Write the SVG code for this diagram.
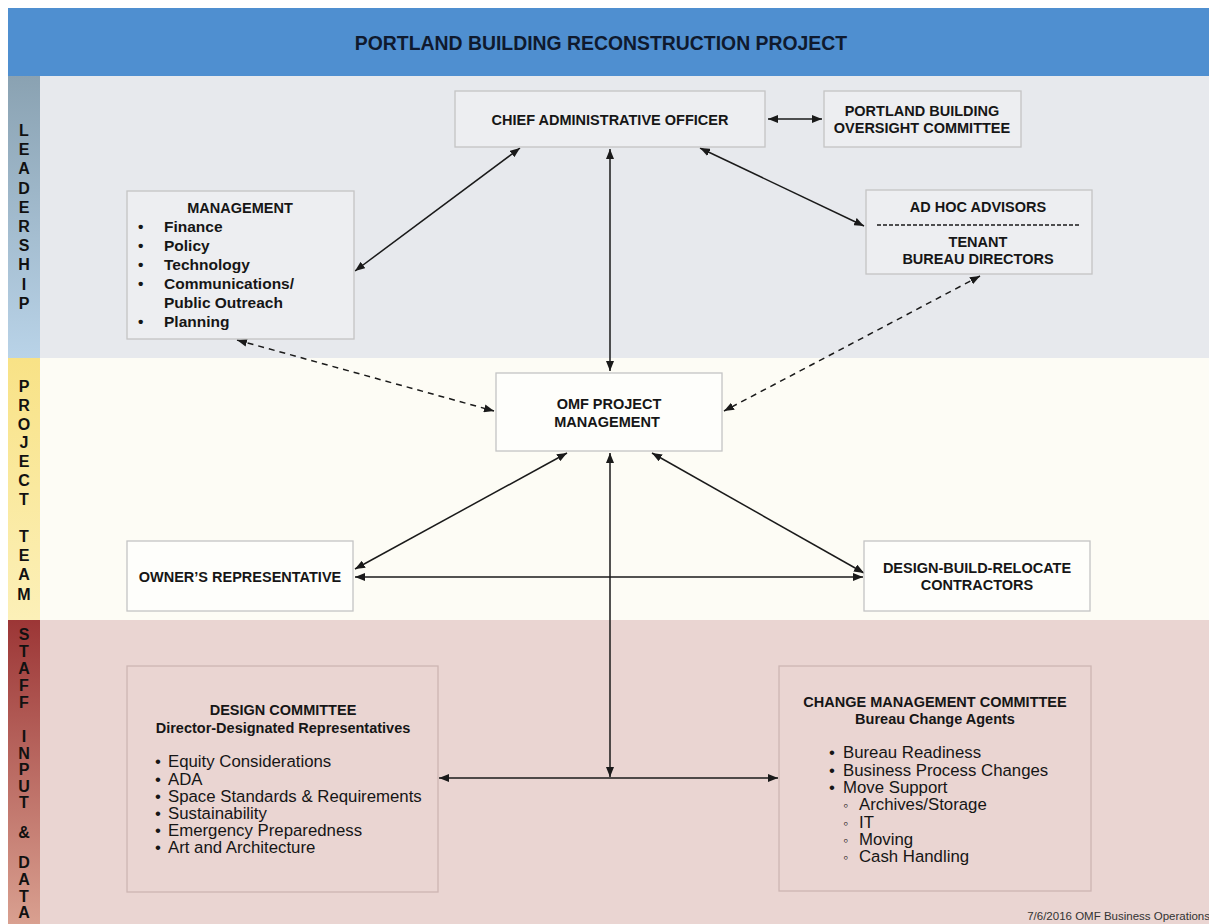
<svg xmlns="http://www.w3.org/2000/svg" width="1209" height="924" viewBox="0 0 1209 924">
<defs>
<linearGradient id="gLead" x1="0" y1="0" x2="0" y2="1"><stop offset="0" stop-color="#8aa2b2"/><stop offset="1" stop-color="#b9d3e8"/></linearGradient>
<linearGradient id="gProj" x1="0" y1="0" x2="0" y2="1"><stop offset="0" stop-color="#f8e286"/><stop offset="1" stop-color="#fcf0b8"/></linearGradient>
<linearGradient id="gStaff" x1="0" y1="0" x2="0" y2="1"><stop offset="0" stop-color="#9c3636"/><stop offset="1" stop-color="#d9a090"/></linearGradient>
<marker id="ah" viewBox="0 0 10 8" refX="10" refY="4" markerWidth="10" markerHeight="8" markerUnits="userSpaceOnUse" orient="auto-start-reverse"><path d="M0,0 L10,4 L0,8 Z" fill="#1a1a1a"/></marker>
<style>
.box{stroke:#c4c4c4;stroke-width:1.3}
.lead{fill:#edeef1}
.proj{fill:#fefefb}
.staff{fill:#ead5d2;stroke:#cdb6b3}
text{font-family:"Liberation Sans",Arial,sans-serif;fill:#161616}
.h{font-weight:bold;font-size:14.5px;text-anchor:middle}
.b{font-weight:bold;font-size:15.5px}
.r{font-size:16.8px;fill:#4a4a4a}
.side{font-weight:bold;font-size:16px;text-anchor:middle;fill:#111}
.c{stroke:#1a1a1a;stroke-width:1.5;fill:none;marker-start:url(#ah);marker-end:url(#ah)}
.d{stroke-dasharray:6 5}
</style>
</defs>
<rect width="1209" height="924" fill="#ffffff"/>
<g id="bands">
<rect x="8" y="8" width="1201" height="68" fill="#4f8fd0"/>
<rect x="40" y="76" width="1169" height="282" fill="#e7e9ed"/>
<rect x="40" y="358" width="1169" height="262" fill="#fdfcf5"/>
<rect x="40" y="620" width="1169" height="304" fill="#ead5d2"/>
<rect x="8" y="76" width="32" height="282" fill="url(#gLead)"/>
<rect x="8" y="358" width="32" height="262" fill="url(#gProj)"/>
<rect x="8" y="620" width="32" height="304" fill="url(#gStaff)"/>
</g>
<g id="title"><text x="601" y="50" font-weight="bold" font-size="19.4" text-anchor="middle" style="fill:#0f1a2e">PORTLAND BUILDING RECONSTRUCTION PROJECT</text></g>
<g id="side-labels">
<g id="lbl-leadership">
<text class="side" x="24" y="136">L</text><text class="side" x="24" y="155">E</text><text class="side" x="24" y="174">A</text><text class="side" x="24" y="194">D</text><text class="side" x="24" y="213">E</text><text class="side" x="24" y="232">R</text><text class="side" x="24" y="251">S</text><text class="side" x="24" y="270">H</text><text class="side" x="24" y="290">I</text><text class="side" x="24" y="309">P</text>
</g>
<g id="lbl-project">
<text class="side" x="24" y="392">P</text><text class="side" x="24" y="411">R</text><text class="side" x="24" y="430">O</text><text class="side" x="24" y="448">J</text><text class="side" x="24" y="467">E</text><text class="side" x="24" y="486">C</text><text class="side" x="24" y="505">T</text><text class="side" x="24" y="542">T</text><text class="side" x="24" y="561">E</text><text class="side" x="24" y="580">A</text><text class="side" x="24" y="600">M</text>
</g>
<g id="lbl-staff">
<text class="side" x="24" y="640">S</text><text class="side" x="24" y="657">T</text><text class="side" x="24" y="674">A</text><text class="side" x="24" y="691">F</text><text class="side" x="24" y="708">F</text><text class="side" x="24" y="742">I</text><text class="side" x="24" y="759">N</text><text class="side" x="24" y="775">P</text><text class="side" x="24" y="792">U</text><text class="side" x="24" y="808">T</text><text class="side" x="24" y="838">&amp;</text><text class="side" x="24" y="868">D</text><text class="side" x="24" y="885">A</text><text class="side" x="24" y="902">T</text><text class="side" x="24" y="918">A</text>
</g>
</g>
<g id="connectors">
<line class="c" x1="768" y1="119" x2="822" y2="119"/>
<line class="c" x1="520" y1="148" x2="355" y2="271"/>
<line class="c" x1="610" y1="149" x2="610" y2="371"/>
<line class="c" x1="700" y1="148" x2="864" y2="226"/>
<line class="c d" x1="237" y1="340" x2="494" y2="411"/>
<line class="c d" x1="980" y1="276" x2="724" y2="411"/>
<line class="c" x1="567" y1="453" x2="355" y2="569"/>
<line class="c" x1="652" y1="453" x2="864" y2="573"/>
<line class="c" x1="355" y1="577" x2="863" y2="577"/>
<line class="c" x1="610" y1="453" x2="610" y2="777"/>
<line class="c" x1="439" y1="778" x2="778" y2="778"/>
</g>
<g id="cao">
<rect class="box lead" x="455" y="91" width="310" height="56"/>
<text class="h" x="610" y="125">CHIEF ADMINISTRATIVE OFFICER</text>
</g>
<g id="oversight">
<rect class="box lead" x="824" y="91" width="197" height="56"/>
<text class="h" x="922" y="116">PORTLAND BUILDING</text>
<text class="h" x="922" y="133">OVERSIGHT COMMITTEE</text>
</g>
<g id="management">
<rect class="box lead" x="127" y="191" width="227" height="148"/>
<text class="h" x="240" y="213" font-size="15.5">MANAGEMENT</text>
<g class="b">
<text x="138" y="232">•</text><text x="164" y="232">Finance</text>
<text x="138" y="251">•</text><text x="164" y="251">Policy</text>
<text x="138" y="270">•</text><text x="164" y="270">Technology</text>
<text x="138" y="289">•</text><text x="164" y="289">Communications/</text>
<text x="164" y="308">Public Outreach</text>
<text x="138" y="327">•</text><text x="164" y="327">Planning</text>
</g>
</g>
<g id="adhoc">
<rect class="box lead" x="866" y="190" width="226" height="84"/>
<text class="h" x="978" y="212">AD HOC ADVISORS</text>
<line x1="877" y1="225" x2="1080" y2="225" stroke="#1a1a1a" stroke-width="1.5" stroke-dasharray="4 2"/>
<text class="h" x="978" y="247">TENANT</text>
<text class="h" x="978" y="264">BUREAU DIRECTORS</text>
</g>
<g id="omf">
<rect class="box proj" x="496" y="373" width="226" height="78"/>
<text class="h" x="609" y="409">OMF PROJECT</text>
<text class="h" x="607" y="427">MANAGEMENT</text>
</g>
<g id="owners-rep">
<rect class="box proj" x="127" y="541" width="226" height="70"/>
<text class="h" x="240" y="582">OWNER’S REPRESENTATIVE</text>
</g>
<g id="dbr">
<rect class="box proj" x="864" y="541" width="226" height="70"/>
<text class="h" x="977" y="573">DESIGN-BUILD-RELOCATE</text>
<text class="h" x="977" y="590">CONTRACTORS</text>
</g>
<g id="design-committee">
<rect class="box staff" x="127" y="666" width="311" height="226"/>
<text class="h" x="283" y="715" font-size="15">DESIGN COMMITTEE</text>
<text class="h" x="283" y="733" font-size="15.8">Director-Designated Representatives</text>
<g class="r">
<text x="155" y="767">•</text><text x="168" y="767">Equity Considerations</text>
<text x="155" y="785">•</text><text x="168" y="785">ADA</text>
<text x="155" y="802">•</text><text x="168" y="802">Space Standards &amp; Requirements</text>
<text x="155" y="819">•</text><text x="168" y="819">Sustainability</text>
<text x="155" y="836">•</text><text x="168" y="836">Emergency Preparedness</text>
<text x="155" y="853">•</text><text x="168" y="853">Art and Architecture</text>
</g>
</g>
<g id="change-committee">
<rect class="box staff" x="779" y="666" width="312" height="225"/>
<text class="h" x="935" y="707" font-size="15">CHANGE MANAGEMENT COMMITTEE</text>
<text class="h" x="935" y="724" font-size="15.8">Bureau Change Agents</text>
<g class="r">
<text x="829" y="758">•</text><text x="843" y="758">Bureau Readiness</text>
<text x="829" y="776">•</text><text x="843" y="776">Business Process Changes</text>
<text x="829" y="793">•</text><text x="843" y="793">Move Support</text>
<text x="843" y="810" font-size="14">◦</text><text x="859" y="810">Archives/Storage</text>
<text x="843" y="828" font-size="14">◦</text><text x="859" y="828">IT</text>
<text x="843" y="845" font-size="14">◦</text><text x="859" y="845">Moving</text>
<text x="843" y="862" font-size="14">◦</text><text x="859" y="862">Cash Handling</text>
</g>
</g>
<g id="footer"><text x="1210" y="920" font-size="11.5" text-anchor="end" style="fill:#333">7/6/2016 OMF Business Operations</text></g>
</svg>
